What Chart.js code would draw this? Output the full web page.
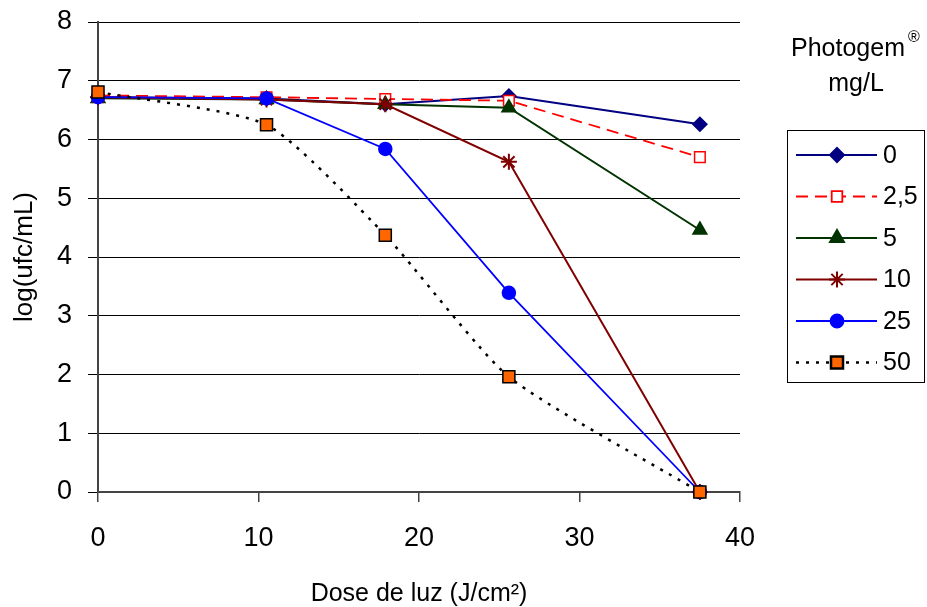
<!DOCTYPE html>
<html>
<head>
<meta charset="utf-8">
<script src="https://cdn.jsdelivr.net/npm/chart.js@4.4.1/dist/chart.umd.min.js"></script>
<style>
  html, body { margin: 0; padding: 0; background: #fff; }
  #wrap { width: 927px; height: 607px; }
</style>
</head>
<body>
<div id="wrap"><canvas id="chart" width="927" height="607"></canvas></div>
<script>
// data
const doses = [0, 10.5, 17.9, 25.6, 37.5];
const concLabels = ['0', '2,5', '5', '10', '25', '50'];
const c0   = [6.72, 6.70, 6.60, 6.74, 6.26];
const c2_5 = [6.75, 6.72, 6.69, 6.66, 5.70];
const c5   = [6.70, 6.68, 6.60, 6.54, 4.46];
const c10  = [6.72, 6.68, 6.60, 5.62, 0];
const c25  = [6.72, 6.70, 5.84, 3.39, 0];
const c50  = [6.81, 6.25, 4.37, 1.96, 0];
const yTicks = [0, 1, 2, 3, 4, 5, 6, 7, 8];
const xTicks = [0, 10, 20, 30, 40];

const FONT = "'Liberation Sans', Arial, sans-serif";

const styles = [
  { color: '#000080', fill: '#000080', point: 'rectRot', r: 7, dash: [], width: 2 },
  { color: '#ff0000', fill: '#ffffff', point: 'rect', r: 7.5, dash: [12, 7], width: 1.8 },
  { color: '#003300', fill: '#003300', point: 'triangle', r: 8, dash: [], width: 2 },
  { color: '#800000', fill: '#800000', point: 'star', r: 8, dash: [], width: 2 },
  { color: '#0000ff', fill: '#0000ff', point: 'circle', r: 6.5, dash: [], width: 1.8 },
  { color: '#000000', fill: '#ff6600', point: 'rect', r: 8.5, dash: [3, 7], width: 2.5, pointBorder: '#000000' }
];
const series = [c0, c2_5, c5, c10, c25, c50];

const datasets = series.map((vals, i) => {
  const s = styles[i];
  return {
    label: concLabels[i],
    data: vals.map((v, k) => ({ x: doses[k], y: v })),
    borderColor: s.color,
    borderWidth: s.width,
    borderDash: s.dash,
    pointStyle: s.point,
    pointRadius: s.r,
    pointHoverRadius: s.r,
    pointBackgroundColor: s.fill,
    pointBorderColor: s.pointBorder || s.color,
    pointBorderWidth: s.point === 'star' ? 2 : 1.5,
    tension: i === 5 ? 0.2 : 0,
    order: 6 - i,
    clip: false
  };
});

// legend box on the right, drawn by hand
const sideLegend = {
  id: 'sideLegend',
  afterDraw(chart) {
    const ctx = chart.ctx;
    ctx.save();
    ctx.fillStyle = '#000';
    ctx.textBaseline = 'middle';
    ctx.textAlign = 'center';
    ctx.font = '25px ' + FONT;
    ctx.fillText('Photogem', 848, 49);
    ctx.font = '16px ' + FONT;
    ctx.fillText('®', 914, 38);
    ctx.font = '25px ' + FONT;
    ctx.fillText('mg/L', 856, 84);

    ctx.strokeStyle = '#000';
    ctx.lineWidth = 1;
    ctx.strokeRect(787.5, 130.5, 137, 252);

    for (let i = 0; i < datasets.length; i++) {
      const s = styles[i];
      const y = 155 + i * 41.5;
      ctx.strokeStyle = s.color;
      ctx.lineWidth = s.width;
      ctx.setLineDash(s.dash);
      ctx.beginPath();
      ctx.moveTo(796, y);
      ctx.lineTo(877, y);
      ctx.stroke();
      ctx.setLineDash([]);
      ctx.fillStyle = s.fill;
      ctx.strokeStyle = s.pointBorder || s.color;
      Chart.helpers.drawPoint(ctx, {
        pointStyle: s.point, radius: s.r, rotation: 0,
        borderWidth: s.point === 'star' ? 2 : 1.5
      }, 837, y);
      ctx.fillStyle = '#000';
      ctx.textAlign = 'left';
      ctx.font = '25px ' + FONT;
      ctx.fillText(concLabels[i], 883, y + 1);
    }
    ctx.restore();
  }
};

const chart = document.querySelector('#chart').getContext('2d');

new Chart(chart, {
  type: 'line',
  data: { datasets: datasets },
  options: {
    responsive: false,
    animation: false,
    layout: { padding: { left: 0, top: 22, right: 187, bottom: 0 } },
    plugins: {
      legend: { display: false },
      tooltip: { enabled: false }
    },
    scales: {
      x: {
        type: 'linear',
        min: 0,
        max: 40,
        afterBuildTicks: (scale) => { scale.ticks = xTicks.map(v => ({ value: v })); },
        afterFit: (scale) => { scale.height = 115; scale.paddingLeft = 0; scale.paddingRight = 0; },
        grid: { drawOnChartArea: false, drawTicks: true, tickLength: 10, color: '#444', lineWidth: 1.5 },
        border: { color: '#444', width: 2 },
        ticks: { color: '#000', font: { family: FONT, size: 27 }, padding: 20 },
        title: {
          display: true,
          text: 'Dose de luz (J/cm²)',
          color: '#000',
          font: { family: FONT, size: 25, lineHeight: 1 },
          padding: { top: 10, bottom: 0 }
        }
      },
      y: {
        min: 0,
        max: 8,
        afterBuildTicks: (scale) => { scale.ticks = yTicks.map(v => ({ value: v })); },
        afterFit: (scale) => { scale.width = 98; scale.paddingTop = 0; scale.paddingBottom = 0; },
        grid: { color: '#000', lineWidth: 1, drawTicks: true, tickLength: 10 },
        border: { color: '#444', width: 2 },
        ticks: { color: '#000', font: { family: FONT, size: 27 }, padding: 16 },
        title: {
          display: true,
          text: 'log(ufc/mL)',
          color: '#000',
          font: { family: FONT, size: 26 },
          padding: { top: 9, bottom: 0 }
        }
      }
    }
  },
  plugins: [sideLegend]
});
</script>
</body>
</html>
